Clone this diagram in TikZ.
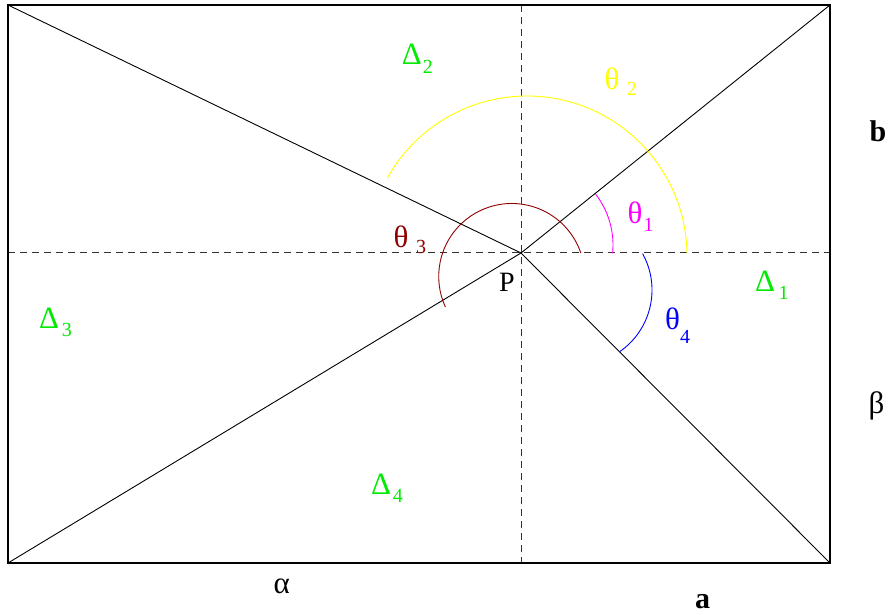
\documentclass[tikz,border=0pt]{standalone}
\usepackage{fontspec}
\setmainfont{Liberation Serif}
\definecolor{cgreen}{RGB}{0,235,0}
\definecolor{cyellow}{RGB}{255,255,0}
\definecolor{cmag}{RGB}{255,0,255}
\definecolor{cdred}{RGB}{144,0,0}
\definecolor{cblue}{RGB}{0,0,255}
\definecolor{cdash}{RGB}{50,50,50}
\begin{document}
\begin{tikzpicture}[x=1pt,y=1pt,
  lbl/.style={anchor=base west,inner sep=0pt,font=\fontsize{28}{30}\selectfont},
  grk/.style={anchor=base west,inner sep=0pt,font=\fontsize{31}{33}\selectfont},
  sub/.style={anchor=base west,inner sep=0pt,font=\fontsize{20}{22}\selectfont},
  bld/.style={anchor=base west,inner sep=0pt,font=\fontsize{30}{32}\selectfont\bfseries},
  thin/.style={line width=0.9pt,black},
  guide/.style={line width=1pt,cdash,dash pattern=on 7pt off 5pt},
  arcline/.style={line width=0.9pt}]
\useasboundingbox (0,0) rectangle (888,615);
% corners and centre
\coordinate (TL) at (8,610);
\coordinate (TR) at (830,610);
\coordinate (BL) at (8,52);
\coordinate (BR) at (830,52);
\coordinate (P) at (521,362);
\coordinate (ML) at (8,362);
\coordinate (MR) at (830,362);
\coordinate (MT) at (521,610);
\coordinate (MB) at (521,52);
% dashed guides
\draw[guide] (ML) -- (MR);
\draw[guide] (MT) -- (MB);
% rectangle
\draw[line width=1.2pt] (TL) rectangle (BR);
% diagonals through P
\draw[thin] (TL) -- (P);
\draw[thin] (TR) -- (P);
\draw[thin] (BL) -- (P);
\draw[thin] (BR) -- (P);
% arcs
\coordinate (cy) at (527,359);
\coordinate (cr) at (511.7,338.5);
\coordinate (cm) at (530,370);
\coordinate (cb) at (577,325);
\draw[arcline,cyellow] (cy) ++(1:160) arc[start angle=1,end angle=151,radius=160];
\draw[arcline,cdred] (cr) ++(18.7:73) arc[start angle=18.7,end angle=204.7,radius=73];
\draw[arcline,cmag] (cm) ++(-5.8:83) arc[start angle=-5.8,end angle=37.7,radius=83];
\draw[arcline,cblue] (cb) ++(29:75) arc[start angle=29,end angle=-55.6,radius=75];
% labels
\node[grk,cgreen] (d2) at (401.7,550) {Δ};
\node[sub,cgreen] (d2s) at (422.7,541.7) {2};
\node[grk,cyellow] (t2) at (604.3,525.7) {θ};
\node[sub,cyellow] (t2s) at (626.7,519) {2};
\node[grk,cdred] (t3) at (393.3,367.3) {θ};
\node[sub,cdred] (t3s) at (416,361.7) {3};
\node[grk,cmag] (t1) at (627.3,391.7) {θ};
\node[sub,cmag] (t1s) at (643.3,383.3) {1};
\node[lbl] (pl) at (499,323.3) {P};
\node[grk,cblue] (t4) at (665,285) {θ};
\node[sub,cblue] (t4s) at (680,271) {4};
\node[grk,cgreen] (d1) at (755,323.3) {Δ};
\node[sub,cgreen] (d1s) at (778.3,315) {1};
\node[bld] (b) at (869.3,473.3) {b};
\node[grk] (beta) at (868.5,201) {β};
\node[grk,cgreen] (d3) at (39,286) {Δ};
\node[sub,cgreen] (d3s) at (61.7,278.3) {3};
\node[grk,cgreen] (d4) at (371,120) {Δ};
\node[sub,cgreen] (d4s) at (392.7,112.3) {4};
\node[grk] (alpha) at (273.3,21.7) {α};
\node[bld] (a) at (695,6.7) {a};
\end{tikzpicture}
\end{document}
